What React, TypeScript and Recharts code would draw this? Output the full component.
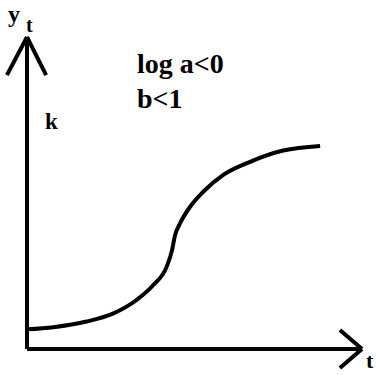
import { LineChart, Line, XAxis, YAxis, ReferenceLine } from 'recharts';

// curve (t, y)
const tValues = [0, 0.79, 1.78, 2.58, 3.27, 3.77, 4.17, 4.33, 4.42, 4.57, 4.87, 5.26, 5.86, 6.66, 7.65, 8.75];
const yValues = [0.63, 0.7, 0.88, 1.14, 1.57, 2.05, 2.64, 3.17, 3.65, 4.03, 4.56, 5.04, 5.58, 6.0, 6.36, 6.51];

const data = tValues.map((t, i) => ({ t, y: yValues[i] }));

const INK = '#000';

export default function App() {
    return (
        <div style={{ position: 'absolute', left: 0, top: 0, width: 380, height: 375, background: '#fff' }}>
            <LineChart
                width={380}
                height={375}
                data={data}
                margin={{ top: 37, right: 18, bottom: 26, left: 27 }}
            >
                <XAxis dataKey="t" type="number" domain={[0, 10]} hide />
                <YAxis type="number" domain={[0, 10]} hide />
                {/* axes */}
                <ReferenceLine segment={[{ x: 0, y: 0 }, { x: 0, y: 10 }]} stroke={INK} strokeWidth={4} ifOverflow="visible" />
                <ReferenceLine segment={[{ x: 0, y: 0 }, { x: 10, y: 0 }]} stroke={INK} strokeWidth={4} ifOverflow="visible" />
                {/* arrow heads */}
                <ReferenceLine segment={[{ x: -0.6, y: 8.78 }, { x: 0, y: 10 }]} stroke={INK} strokeWidth={4} ifOverflow="visible" />
                <ReferenceLine segment={[{ x: 0.57, y: 8.78 }, { x: 0, y: 10 }]} stroke={INK} strokeWidth={4} ifOverflow="visible" />
                <ReferenceLine segment={[{ x: 9.34, y: 0.61 }, { x: 10, y: 0 }]} stroke={INK} strokeWidth={4} ifOverflow="visible" />
                <ReferenceLine segment={[{ x: 9.34, y: -0.61 }, { x: 10, y: 0 }]} stroke={INK} strokeWidth={4} ifOverflow="visible" />
                <Line
                    type="monotone"
                    dataKey="y"
                    stroke={INK}
                    strokeWidth={4}
                    dot={false}
                    isAnimationActive={false}
                />
            </LineChart>
            <svg width={380} height={375} style={{ position: 'absolute', left: 0, top: 0, pointerEvents: 'none' }}>
                <g fontFamily="'Liberation Serif', serif" fontWeight="bold" fill={INK}>
                    <text x={8} y={22} fontSize={24}>y</text>
                    <text x={26} y={32} fontSize={20}>t</text>
                    <text x={45} y={129} fontSize={23}>k</text>
                    <text x={137} y={73} fontSize={28}>log a&lt;0</text>
                    <text x={137} y={108} fontSize={28}>b&lt;1</text>
                    <text x={366} y={368} fontSize={22}>t</text>
                </g>
            </svg>
        </div>
    );
}
